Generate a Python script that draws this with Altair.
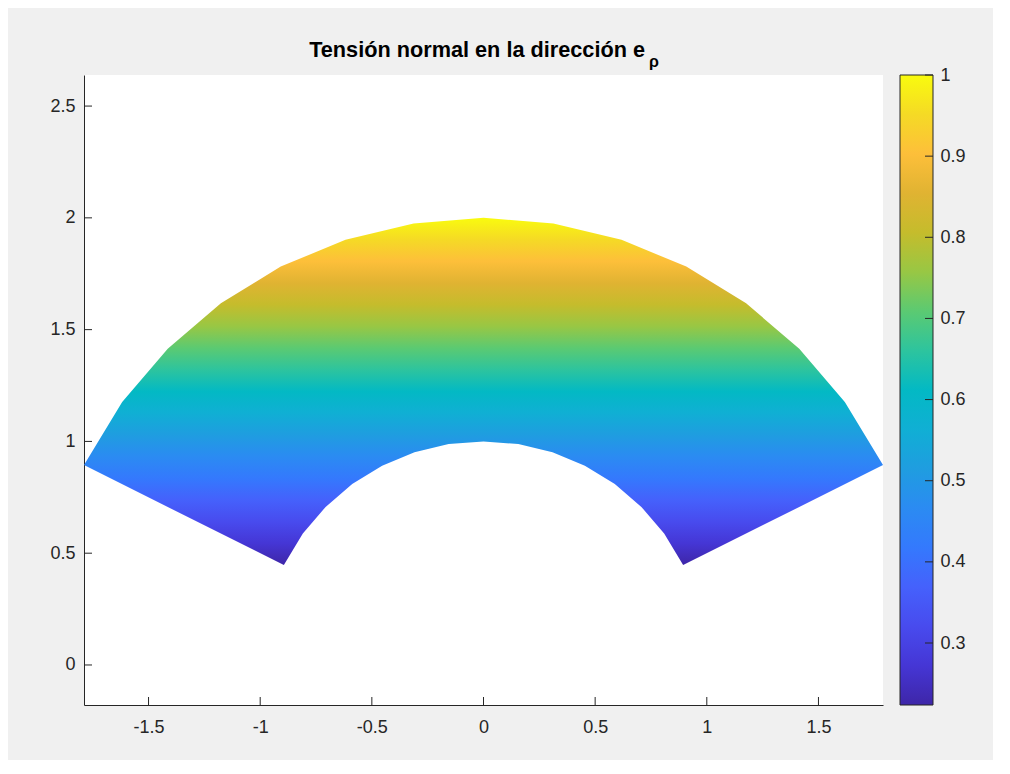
import altair as alt
import pandas as pd

# ---------------- data ----------------
# outer arc (r = 2), left to right
outer_x = [-1.789, -1.618, -1.414, -1.176, -0.908, -0.618, -0.313, 0.0,
           0.313, 0.618, 0.908, 1.176, 1.414, 1.618, 1.789]
outer_y = [0.894, 1.176, 1.414, 1.618, 1.782, 1.902, 1.975, 2.0,
           1.975, 1.902, 1.782, 1.618, 1.414, 1.176, 0.894]
# inner arc (r = 1), right to left
inner_x = [0.894, 0.809, 0.707, 0.588, 0.454, 0.309, 0.156, 0.0,
           -0.156, -0.309, -0.454, -0.588, -0.707, -0.809, -0.894]
inner_y = [0.447, 0.588, 0.707, 0.809, 0.891, 0.951, 0.988, 1.0,
           0.988, 0.951, 0.891, 0.809, 0.707, 0.588, 0.447]

x_domain = [-1.789, 1.789]
y_domain = [-0.179, 2.639]
x_ticks = [-1.5, -1.0, -0.5, 0.0, 0.5, 1.0, 1.5]
y_ticks = [0.0, 0.5, 1.0, 1.5, 2.0, 2.5]

cbar_range = [0.2236, 1.0]
cbar_ticks = [0.3, 0.4, 0.5, 0.6, 0.7, 0.8, 0.9, 1.0]

# parula colormap, evenly spaced samples (bottom -> top)
parula = ["#3e26a8", "#4536d5", "#484bee", "#4561fc", "#3479fd", "#2b8bf2",
          "#1f9de0", "#10afd4", "#03b9c4", "#2dc49e", "#5bca72", "#98c744",
          "#c5bc2c", "#e0b332", "#fdbf3a", "#f5da25", "#f9fb0e"]

title_main = "Tensión normal en la dirección e"
title_sub = "ρ"

# ---------------- build ----------------
n_out = len(outer_x)
poly_df = pd.DataFrame({
    "x": outer_x + inner_x + [outer_x[0]],
    "y": outer_y + inner_y + [outer_y[0]],
    "i": list(range(2 * n_out + 1)),
})

grad = alt.LinearGradient(
    gradient="linear",
    stops=[alt.GradientStop(color=c, offset=k / (len(parula) - 1)) for k, c in enumerate(parula)],
    x1=0, x2=0, y1=1, y2=0,
)

AX = "#262626"
FONT = "Liberation Sans"

xs = alt.Scale(domain=x_domain, nice=False, zero=False)
ys = alt.Scale(domain=y_domain, nice=False, zero=False)
cs = alt.Scale(domain=cbar_range, nice=False, zero=False)

x_axis = alt.Axis(values=x_ticks, labelExpr="toString(datum.value)", labelPadding=13)
y_axis = alt.Axis(values=y_ticks, labelExpr="toString(datum.value)", labelPadding=9)
c_axis = alt.Axis(orient="right", offset=50, values=cbar_ticks, format=".1~f",
                  domain=False, labelPadding=7)

poly = alt.Chart(poly_df).mark_line(
    fill=grad, strokeOpacity=0, strokeWidth=0, interpolate="linear"
).encode(
    x=alt.X("x:Q", scale=xs, title=None, axis=x_axis),
    y=alt.Y("y:Q", scale=ys, title=None, axis=y_axis),
    order="i:Q",
)

ytick = alt.Chart(pd.DataFrame({"v": y_ticks})).mark_rule(color=AX, strokeWidth=1).encode(
    y=alt.Y("v:Q", scale=ys, title=None, axis=y_axis), x=alt.value(0), x2=alt.value(8))
xtick = alt.Chart(pd.DataFrame({"v": x_ticks})).mark_rule(color=AX, strokeWidth=1).encode(
    x=alt.X("v:Q", scale=xs, title=None, axis=x_axis), y=alt.value(630), y2=alt.value(622))

t_main = alt.Chart(pd.DataFrame({"t": [title_main]})).mark_text(
    font=FONT, fontSize=21.7, fontWeight="bold", color="black", align="right", baseline="alphabetic"
).encode(text="t:N", x=alt.value(561), y=alt.value(-18))
t_sub = alt.Chart(pd.DataFrame({"t": [title_sub]})).mark_text(
    font=FONT, fontSize=16, fontWeight="bold", color="black", align="left", baseline="alphabetic"
).encode(text="t:N", x=alt.value(565), y=alt.value(-8))

layer_a = alt.layer(poly, ytick, xtick, t_main, t_sub)

cb = alt.Chart(pd.DataFrame({"lo": [cbar_range[0]], "hi": [cbar_range[1]]})).mark_rect(
    fill=grad, stroke=AX, strokeWidth=1
).encode(
    x=alt.value(816), x2=alt.value(849),
    y=alt.Y("lo:Q", scale=cs, title=None, axis=c_axis),
    y2="hi:Q",
)
cbtick = alt.Chart(pd.DataFrame({"v": cbar_ticks})).mark_rule(color=AX, strokeWidth=1).encode(
    y=alt.Y("v:Q", scale=cs, title=None, axis=c_axis), x=alt.value(841), x2=alt.value(849))

layer_b = alt.layer(cb, cbtick)

chart = alt.layer(layer_a, layer_b).resolve_scale(y="independent").properties(
    width=799, height=630,
    autosize=alt.AutoSizeParams(type="none"),
    padding={"left": 76, "top": 67, "right": 110, "bottom": 55},
).configure(
    background="#f0f0f0",
).configure_view(
    fill="white", stroke="transparent", strokeWidth=0,
).configure_axis(
    labelFont=FONT, labelFontSize=18, labelColor=AX,
    domainColor=AX, domainWidth=1, ticks=False, tickSize=0, grid=False,
)

chart.save("out.html", embed_options={"renderer": "svg", "actions": False})
